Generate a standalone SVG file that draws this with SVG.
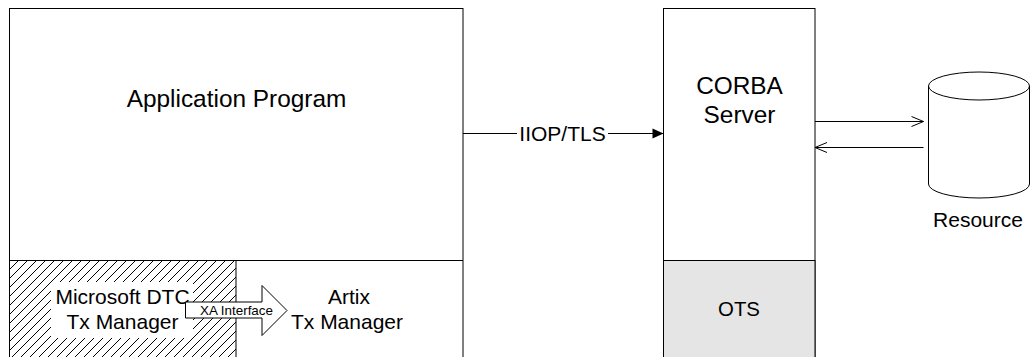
<svg xmlns="http://www.w3.org/2000/svg" width="1030" height="357" viewBox="0 0 1030 357">
  <style>
    .box { fill: #ffffff; stroke: #000000; stroke-width: 1; }
    .ln { fill: none; stroke: #000000; stroke-width: 1; }
    .t { font-family: "Liberation Sans", Arial, sans-serif; fill: #000000; text-anchor: middle; }
    .big { font-size: 24.4px; }
    .mid { font-size: 21px; }
    .ots { font-size: 20.4px; }
    .small { font-size: 13.4px; }
  </style>
  <defs>
    <pattern id="hatch" patternUnits="userSpaceOnUse" width="9" height="9">
      <path d="M-2,2 L2,-2 M0,9 L9,0 M7,11 L11,7" stroke="#000000" stroke-width="1" fill="none"/>
    </pattern>
    <marker id="solidArrow" markerUnits="userSpaceOnUse" markerWidth="11" markerHeight="10" refX="11" refY="5" orient="auto" overflow="visible">
      <path d="M0,0 L11,5 L0,10 Z" fill="#000000"/>
    </marker>
    <marker id="openArrow" markerUnits="userSpaceOnUse" markerWidth="12" markerHeight="10" refX="12" refY="5" orient="auto" overflow="visible">
      <path d="M0,0 L12,5 L0,10" fill="none" stroke="#000000" stroke-width="1"/>
    </marker>
  </defs>
  <rect width="1030" height="357" fill="#ffffff"/>

  <g id="application-program">
    <rect class="box" x="9.5" y="8.5" width="453.5" height="360"/>
    <line class="ln" x1="9.5" y1="260.5" x2="463" y2="260.5"/>
    <text class="t big" x="236.5" y="107">Application Program</text>
  </g>

  <g id="microsoft-dtc">
    <rect x="9.5" y="260.5" width="226.5" height="100" fill="url(#hatch)" stroke="#000000" stroke-width="1"/>
    <rect x="51" y="282" width="142" height="56" fill="#ffffff"/>
    <text class="t mid" x="122.5" y="304">Microsoft DTC</text>
    <text class="t mid" x="122.5" y="329">Tx Manager</text>
  </g>

  <g id="artix-tx-manager">
    <text class="t mid" x="349" y="304">Artix</text>
    <text class="t mid" x="347" y="329">Tx Manager</text>
  </g>

  <g id="corba-server">
    <rect class="box" x="663.5" y="8.5" width="151.5" height="360"/>
    <text class="t big" x="739.5" y="94">CORBA</text>
    <text class="t big" x="739.5" y="123">Server</text>
  </g>

  <g id="ots">
    <rect x="663.5" y="260.5" width="151.5" height="100" fill="#e5e5e5" stroke="#000000" stroke-width="1"/>
    <text class="t ots" x="739" y="316">OTS</text>
  </g>

  <g id="resource">
    <path class="box" d="M928.5,86 A50.5,14 0 0 1 1029.5,86 L1029.5,184 A50.5,14 0 0 1 928.5,184 Z"/>
    <path class="ln" d="M928.5,86 A50.5,14 0 0 0 1029.5,86"/>
    <text class="t mid" x="978" y="227">Resource</text>
  </g>

  <g id="connectors">
    <g id="iiop-tls">
      <line class="ln" x1="463" y1="133.5" x2="517" y2="133.5"/>
      <line class="ln" x1="608" y1="133.5" x2="663.5" y2="133.5" marker-end="url(#solidArrow)"/>
      <text class="t mid" x="562.5" y="141">IIOP/TLS</text>
    </g>
    <line id="server-to-resource" class="ln" x1="815" y1="121.5" x2="923.5" y2="121.5" marker-end="url(#openArrow)"/>
    <line id="resource-to-server" class="ln" x1="923.5" y1="147.5" x2="815" y2="147.5" marker-end="url(#openArrow)"/>
    <g id="xa-interface">
      <path d="M185.5,302 L262,302 L262,285.5 L287,310.5 L262,335.5 L262,318 L185.5,318 Z" fill="#ffffff" stroke="#000000" stroke-width="1"/>
      <text class="t small" x="236.5" y="314.5">XA Interface</text>
    </g>
  </g>
</svg>
